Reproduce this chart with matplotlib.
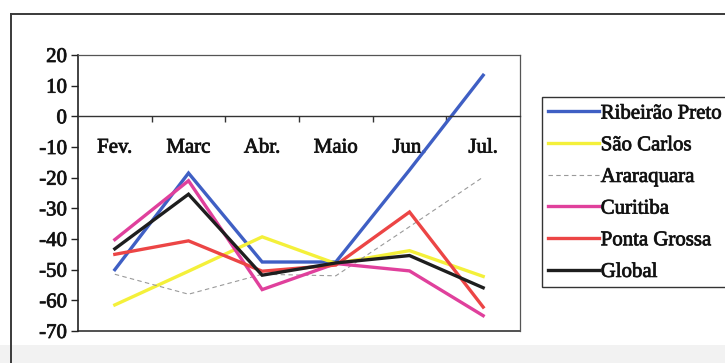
import matplotlib
matplotlib.use("Agg")
import matplotlib.pyplot as plt
from matplotlib.patches import Rectangle
from matplotlib.lines import Line2D
import matplotlib.patheffects as pe

months = ["Fev.", "Marc", "Abr.", "Maio", "Jun.", "Jul."]
ribeirao_preto = [-50, -18.5, -47.5, -47.5, -17.5, 13.4]
sao_carlos = [-61.5, -50.5, -39.3, -48, -43.8, -52.2]
araraquara = [-51.5, -58, -51.5, -52, -36, -19.8]
curitiba = [-40.2, -21, -56.5, -48, -50.4, -65]
ponta_grossa = [-45, -40.6, -50.5, -48.5, -31.2, -62.2]
global_ = [-43.2, -25.4, -51.8, -47.8, -45.4, -55.9]
yticks = [20, 10, 0, -10, -20, -30, -40, -50, -60, -70]

plt.rcParams['font.family'] = ['Liberation Serif', 'DejaVu Serif']
FS = 15
thick = [pe.withStroke(linewidth=0.6, foreground='#222222')]

W, H = 725, 363
fig = plt.figure(figsize=(W / 100, H / 100), dpi=100)

# outer frame and light bottom band
fig.patches.append(Rectangle((0, 0), 1, 18 / H, transform=fig.transFigure,
                             facecolor='#f2f2f2', edgecolor='none', zorder=0))
fig.add_artist(Line2D([11 / W, 11 / W], [0, 1 - 14 / H], transform=fig.transFigure,
                      color='#3a3a3a', lw=1.4))
fig.add_artist(Line2D([11 / W, 1], [1 - 14 / H, 1 - 14 / H], transform=fig.transFigure,
                      color='#3a3a3a', lw=1.4))

ax = fig.add_axes([78 / W, 1 - 331 / H, (520 - 78) / W, (331 - 55) / H])
x = list(range(len(months)))

series = [
    ("Ribeirão Preto", ribeirao_preto, '#3f5fc4', 2.4, '-'),
    ("São Carlos", sao_carlos, '#f4f03a', 2.4, '-'),
    ("Araraquara", araraquara, '#9a9a9a', 0.8, (0, (4, 3))),
    ("Curitiba", curitiba, '#e0409c', 2.4, '-'),
    ("Ponta Grossa", ponta_grossa, '#ec4545', 2.4, '-'),
    ("Global", global_, '#1e1e1e', 2.4, '-'),
]
handles = []
for name, vals, col, lw, ls in series:
    ln, = ax.plot(x, vals, color=col, lw=lw, ls=ls, label=name,
                  solid_joinstyle='miter')
    handles.append(ln)

ax.set_xlim(-0.5, len(months) - 0.5)
ax.set_ylim(-70, 20)
ax.set_yticks(yticks)
ax.set_yticklabels([str(v) for v in yticks], fontsize=FS, color='#111111')
ax.tick_params(axis='y', direction='out', length=5, width=1, pad=3, color='#222222')

ax.spines['bottom'].set_position(('data', 0))
ax.spines['bottom'].set_color('#333333')
ax.spines['bottom'].set_linewidth(1)
ax.spines['left'].set_color('#222222')
ax.spines['left'].set_linewidth(1.2)
for s in ['top', 'right']:
    ax.spines[s].set_color('#555555')
    ax.spines[s].set_linewidth(0.9)
ax.axhline(-70, color='#333333', lw=1.2, clip_on=False)

ax.set_xticks(x)
ax.set_xticklabels(months, fontsize=FS, color='#111111')
ax.tick_params(axis='x', which='major', length=0, pad=16)
ax.set_xticks([i + 0.5 for i in range(len(months) - 1)], minor=True)
ax.tick_params(axis='x', which='minor', direction='out', length=4, width=1, color='#333333')

for t in ax.get_xticklabels() + ax.get_yticklabels():
    t.set_path_effects(thick)

# legend box
fig.patches.append(Rectangle((542 / W, 1 - 287 / H), (740 - 542) / W, (287 - 97) / H,
                             transform=fig.transFigure, facecolor='white',
                             edgecolor='#333333', lw=1.0, zorder=1))
leg = fig.legend(handles=handles, loc='upper left', bbox_to_anchor=(548 / W, 1 - 104 / H),
                 frameon=False, prop={'size': FS},
                 handlelength=2.45, handletextpad=0.08, labelspacing=0.58,
                 borderaxespad=0, borderpad=0.0)
leg.set_zorder(2)
for t in leg.get_texts():
    t.set_color('#111111')
    t.set_path_effects(thick)

fig.savefig("out.png", dpi=100, facecolor='white')
